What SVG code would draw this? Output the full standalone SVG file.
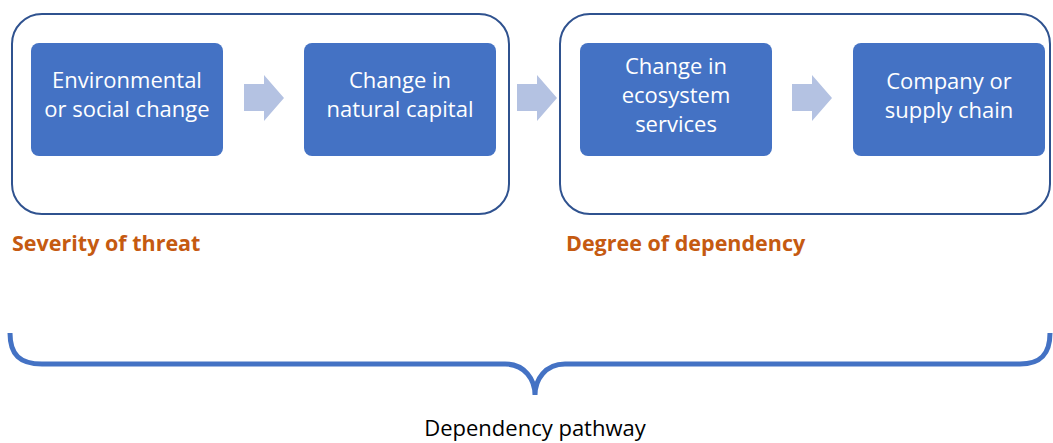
<svg xmlns="http://www.w3.org/2000/svg" width="1053" height="443" viewBox="0 0 1053 443">
<style>
.outer{fill:#fff;stroke:#2F528F;stroke-width:2}
.node{fill:#4472C4}
.nt{fill:#fff;font-family:"Open Sans",sans-serif;font-size:22px;text-anchor:middle}
.arrow{fill:#B4C2E2}
.lbl{fill:#C55A11;font-family:"Open Sans",sans-serif;font-size:21.5px;font-weight:bold}
.cap{fill:#000;font-family:"Open Sans",sans-serif;font-size:22px;text-anchor:middle}
</style>
<rect width="1053" height="443" fill="#fff"/>
<g id="group-threat">
<rect class="outer" x="12" y="14" width="497" height="200" rx="30"/>
</g>
<g id="group-dependency">
<rect class="outer" x="560" y="14" width="490" height="200" rx="30"/>
</g>
<g id="node1">
<rect class="node" x="31" y="43" width="192" height="113" rx="8"/>
<text class="nt" x="127" y="88">Environmental</text>
<text class="nt" x="127" y="117">or social change</text>
</g>
<g id="node2">
<rect class="node" x="304" y="43" width="192" height="113" rx="8"/>
<text class="nt" x="400" y="88">Change in</text>
<text class="nt" x="400" y="117">natural capital</text>
</g>
<g id="node3">
<rect class="node" x="580" y="43" width="192" height="113" rx="8"/>
<text class="nt" x="676" y="74">Change in</text>
<text class="nt" x="676" y="103">ecosystem</text>
<text class="nt" x="676" y="132">services</text>
</g>
<g id="node4">
<rect class="node" x="853" y="43" width="192" height="113" rx="8"/>
<text class="nt" x="949" y="89">Company or</text>
<text class="nt" x="949" y="118">supply chain</text>
</g>
<g id="connectors">
<polygon class="arrow" points="244,84 264,84 264,75 284,98 264,121 264,111 244,111"/>
<polygon class="arrow" points="517,84 537,84 537,75 557,98 537,121 537,111 517,111"/>
<polygon class="arrow" points="792,84 812,84 812,75 832,98 812,121 812,111 792,111"/>
</g>
<g id="labels">
<text class="lbl" x="12" y="251">Severity of threat</text>
<text class="lbl" x="566" y="251">Degree of dependency</text>
</g>
<g id="brace">
<path d="M10,333 C10,355 20,364 42,364 L505,364 C525,364 535,380 535,395 C535,380 545,364 565,364 L1020,364 C1040,364 1050,355 1050,333" fill="none" stroke="#4472C4" stroke-width="5"/>
<text class="cap" x="535" y="436">Dependency pathway</text>
</g>
</svg>
